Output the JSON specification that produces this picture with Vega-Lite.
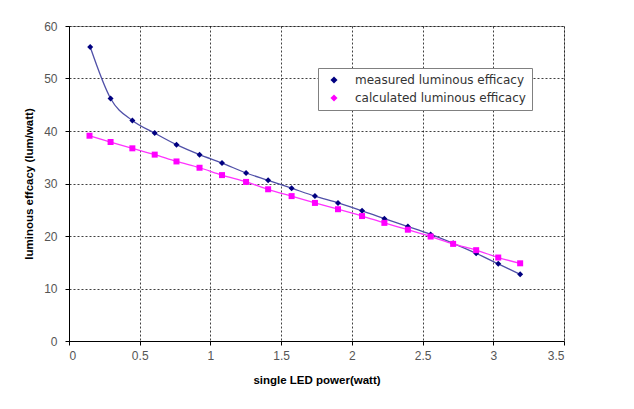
{
  "$schema": "https://vega.github.io/schema/vega-lite/v6.json",
  "width": 495,
  "height": 315,
  "autosize": "none",
  "padding": {"left": 69, "top": 26, "right": 70, "bottom": 68},
  "background": "white",
  "config": {
    "font": "Liberation Sans",
    "view": {"stroke": "#a0a0a0", "strokeWidth": 1},
    "axis": {
      "gridColor": "#000000",
      "gridDash": [2, 2],
      "gridOpacity": 0.75,
      "gridWidth": 1,
      "domainColor": "#000000",
      "tickColor": "#000000",
      "tickSize": 4,
      "labelFont": "Liberation Sans",
      "labelFontSize": 12,
      "labelColor": "#555555",
      "titleFont": "Liberation Sans",
      "titleFontSize": 11.5,
      "titleFontWeight": "bold",
      "titleColor": "#000000"
    }
  },
  "data": {
    "values": [
      {"power": 0.15, "efficacy": 56.0, "series": "measured luminous efficacy"},
      {"power": 0.294, "efficacy": 46.2, "series": "measured luminous efficacy"},
      {"power": 0.448, "efficacy": 42.0, "series": "measured luminous efficacy"},
      {"power": 0.606, "efficacy": 39.6, "series": "measured luminous efficacy"},
      {"power": 0.76, "efficacy": 37.4, "series": "measured luminous efficacy"},
      {"power": 0.923, "efficacy": 35.5, "series": "measured luminous efficacy"},
      {"power": 1.082, "efficacy": 33.9, "series": "measured luminous efficacy"},
      {"power": 1.252, "efficacy": 32.0, "series": "measured luminous efficacy"},
      {"power": 1.408, "efficacy": 30.6, "series": "measured luminous efficacy"},
      {"power": 1.574, "efficacy": 29.1, "series": "measured luminous efficacy"},
      {"power": 1.739, "efficacy": 27.6, "series": "measured luminous efficacy"},
      {"power": 1.902, "efficacy": 26.3, "series": "measured luminous efficacy"},
      {"power": 2.072, "efficacy": 24.8, "series": "measured luminous efficacy"},
      {"power": 2.23, "efficacy": 23.3, "series": "measured luminous efficacy"},
      {"power": 2.396, "efficacy": 21.8, "series": "measured luminous efficacy"},
      {"power": 2.557, "efficacy": 20.3, "series": "measured luminous efficacy"},
      {"power": 2.716, "efficacy": 18.6, "series": "measured luminous efficacy"},
      {"power": 2.879, "efficacy": 16.7, "series": "measured luminous efficacy"},
      {"power": 3.035, "efficacy": 14.7, "series": "measured luminous efficacy"},
      {"power": 3.19, "efficacy": 12.7, "series": "measured luminous efficacy"},
      {"power": 0.145, "efficacy": 39.1, "series": "calculated luminous efficacy"},
      {"power": 0.294, "efficacy": 37.9, "series": "calculated luminous efficacy"},
      {"power": 0.448, "efficacy": 36.7, "series": "calculated luminous efficacy"},
      {"power": 0.606, "efficacy": 35.5, "series": "calculated luminous efficacy"},
      {"power": 0.76, "efficacy": 34.2, "series": "calculated luminous efficacy"},
      {"power": 0.923, "efficacy": 33.0, "series": "calculated luminous efficacy"},
      {"power": 1.082, "efficacy": 31.6, "series": "calculated luminous efficacy"},
      {"power": 1.252, "efficacy": 30.3, "series": "calculated luminous efficacy"},
      {"power": 1.408, "efficacy": 28.9, "series": "calculated luminous efficacy"},
      {"power": 1.574, "efficacy": 27.6, "series": "calculated luminous efficacy"},
      {"power": 1.739, "efficacy": 26.3, "series": "calculated luminous efficacy"},
      {"power": 1.902, "efficacy": 25.1, "series": "calculated luminous efficacy"},
      {"power": 2.072, "efficacy": 23.8, "series": "calculated luminous efficacy"},
      {"power": 2.23, "efficacy": 22.5, "series": "calculated luminous efficacy"},
      {"power": 2.396, "efficacy": 21.2, "series": "calculated luminous efficacy"},
      {"power": 2.557, "efficacy": 19.9, "series": "calculated luminous efficacy"},
      {"power": 2.716, "efficacy": 18.5, "series": "calculated luminous efficacy"},
      {"power": 2.879, "efficacy": 17.3, "series": "calculated luminous efficacy"},
      {"power": 3.035, "efficacy": 15.9, "series": "calculated luminous efficacy"},
      {"power": 3.19, "efficacy": 14.8, "series": "calculated luminous efficacy"}
    ]
  },
  "encoding": {
    "x": {
      "field": "power",
      "type": "quantitative",
      "scale": {"domain": [0, 3.5], "nice": false, "zero": true},
      "axis": {"values": [0, 0.5, 1, 1.5, 2, 2.5, 3, 3.5], "format": "~g", "title": "single LED power(watt)", "titlePadding": 13, "labelPadding": 5}
    },
    "y": {
      "field": "efficacy",
      "type": "quantitative",
      "scale": {"domain": [0, 60], "nice": false},
      "axis": {"values": [0, 10, 20, 30, 40, 50, 60], "title": "luminous effcacy (lum/watt)", "titlePadding": 9, "labelPadding": 8}
    }
  },
  "layer": [
    {
      "mark": {"type": "line", "interpolate": "monotone", "strokeWidth": 1.3},
      "encoding": {
        "color": {
          "field": "series",
          "type": "nominal",
          "scale": {"domain": ["measured luminous efficacy", "calculated luminous efficacy"], "range": ["#5050a8", "#ff33ff"]},
          "legend": null
        },
        "detail": {"field": "series"}
      }
    },
    {
      "mark": {"type": "point", "filled": true, "opacity": 1},
      "encoding": {
        "color": {
          "field": "series",
          "type": "nominal",
          "scale": {"domain": ["measured luminous efficacy", "calculated luminous efficacy"], "range": ["#000080", "#ff00ff"]},
          "legend": {
            "title": null,
            "orient": "none",
            "legendX": 249,
            "legendY": 42,
            "strokeColor": "#808080",
            "fillColor": "white",
            "padding": 6,
            "labelFontSize": 12,
            "labelColor": "#333333",
            "labelFont": "DejaVu Sans",
            "labelLimit": 400,
            "rowPadding": 6,
            "symbolType": "diamond",
            "symbolSize": 50,
            "symbolOffset": 4,
            "labelOffset": 15
          }
        },
        "shape": {
          "field": "series",
          "type": "nominal",
          "scale": {"domain": ["measured luminous efficacy", "calculated luminous efficacy"], "range": ["diamond", "square"]},
          "legend": null
        },
        "size": {"value": 36}
      }
    }
  ],
  "resolve": {"scale": {"color": "independent"}}
}
